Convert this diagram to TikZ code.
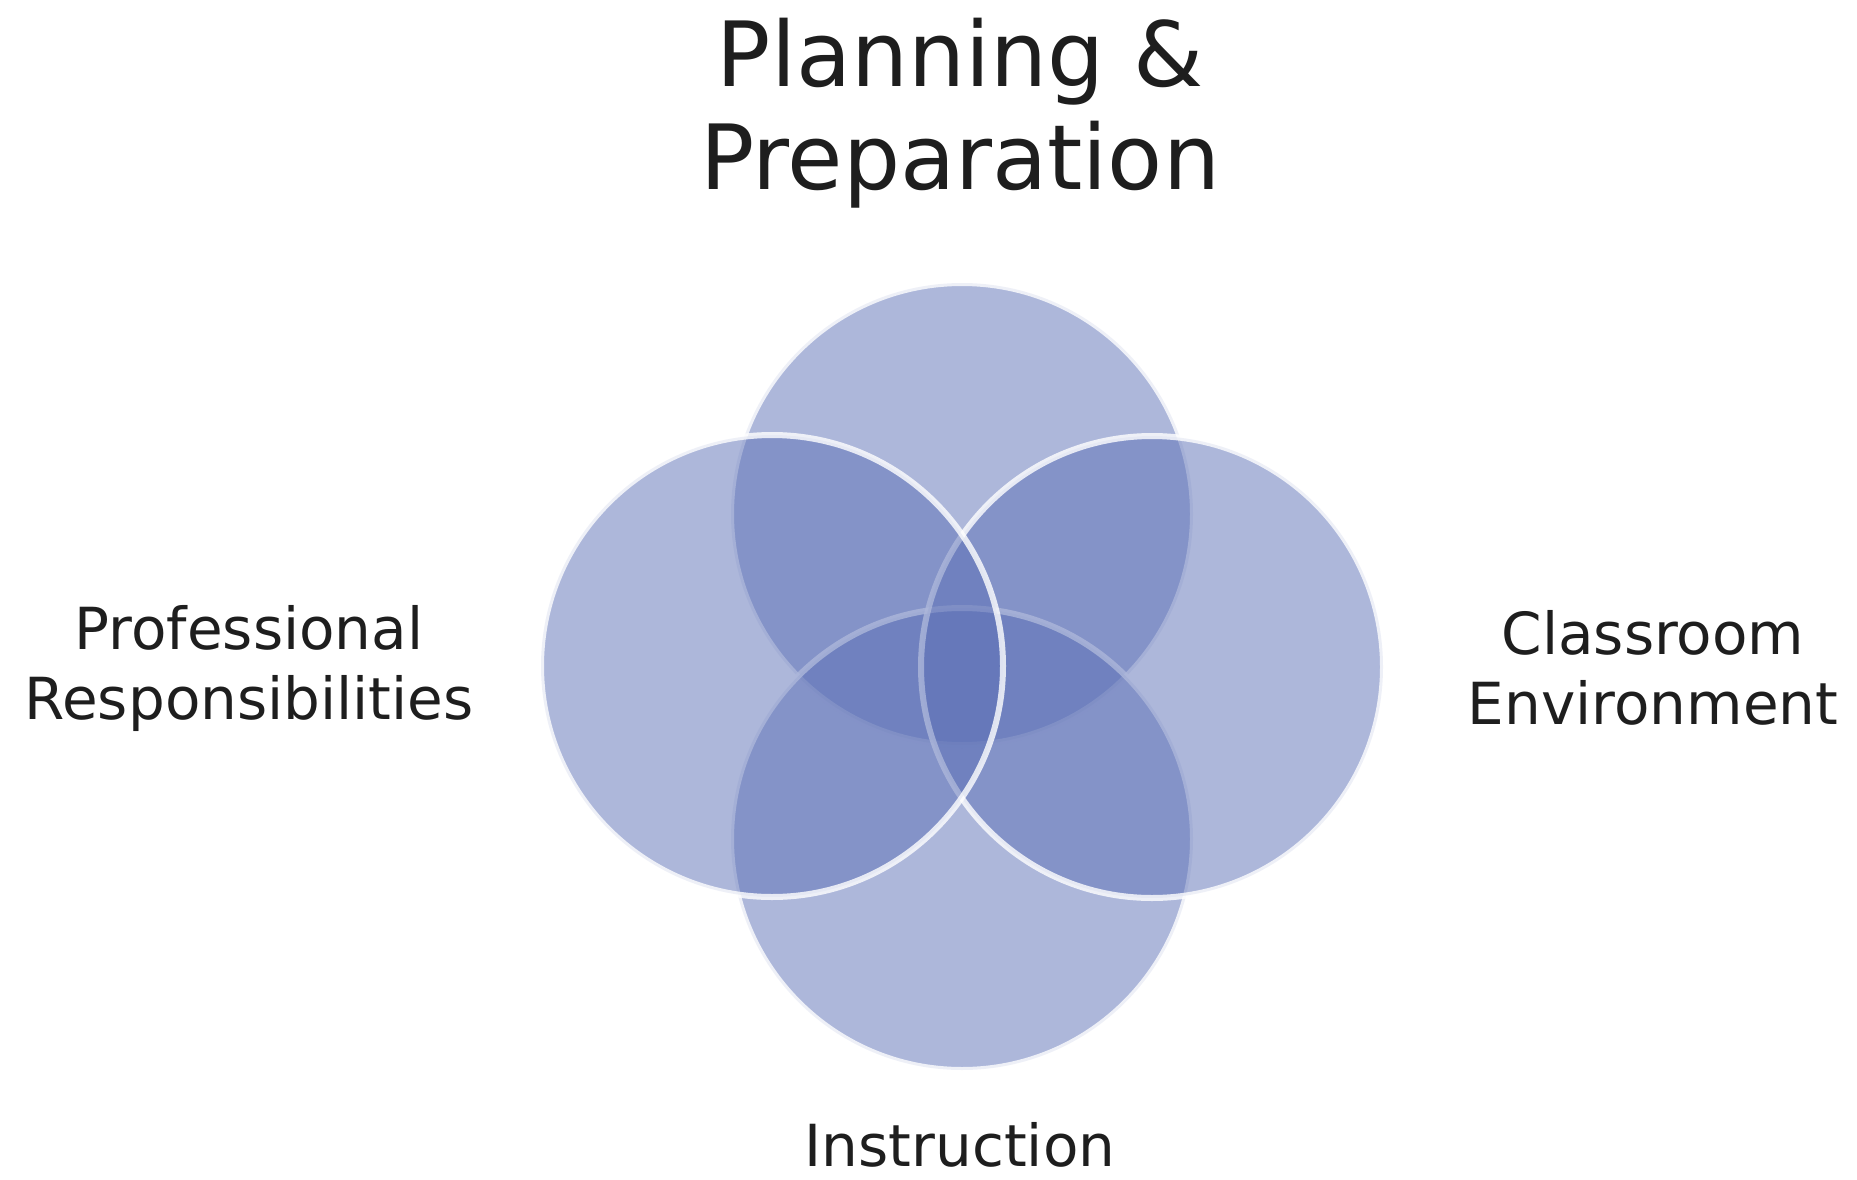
\documentclass[tikz,border=0pt]{standalone}
\usepackage{fontspec}
\setmainfont{DejaVu Sans}
\definecolor{vennfill}{RGB}{92,112,182}
\definecolor{labeltext}{RGB}{30,30,30}
\begin{document}
\begin{tikzpicture}[x=1pt,y=-1pt,
  venn/.style={circle, inner sep=0pt, minimum size=462pt, fill=vennfill, fill opacity=0.5,
               draw=white, draw opacity=0.8, line width=6pt},
  title/.style={align=center, text=labeltext, font=\fontsize{90}{103}\selectfont, inner sep=0pt},
  lbl/.style={align=center, text=labeltext, font=\fontsize{58}{70}\selectfont, inner sep=0pt}]
\useasboundingbox (0,0) rectangle (1857,1180);
\node[venn] (ctop) at (962,514) {};
\node[venn] (cbottom) at (962,839) {};
\node[venn] (cright) at (1152,667) {};
\node[venn] (cleft) at (772,666) {};
\node[title, anchor=base] (ttl) at (960,189) {Planning \&\\Preparation};
\node[lbl, anchor=base] (lprof) at (249,719) {Professional\\Responsibilities};
\node[lbl, anchor=base] (lclass) at (1653,724) {Classroom\\Environment};
\node[lbl, anchor=base] (linst) at (960,1166) {Instruction};
\end{tikzpicture}
\end{document}
